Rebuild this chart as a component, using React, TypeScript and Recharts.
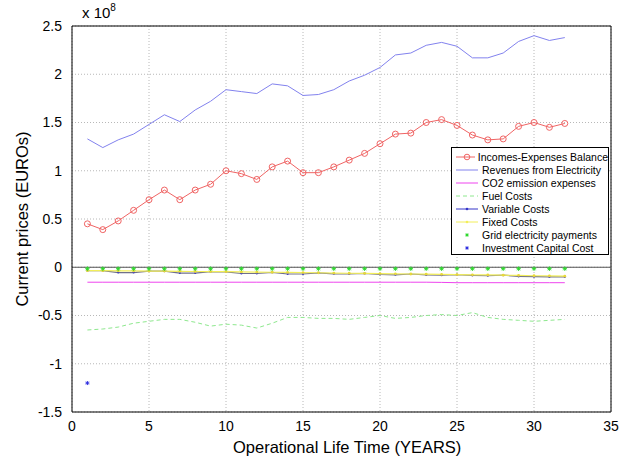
import React from 'react';
import { ComposedChart, Line, Scatter, XAxis, YAxis, CartesianGrid, ReferenceLine } from 'recharts';

// values in units of 1e8 EUR
const YEARS = [1, 2, 3, 4, 5, 6, 7, 8, 9, 10, 11, 12, 13, 14, 15, 16, 17, 18, 19, 20, 21, 22, 23, 24, 25, 26, 27, 28, 29, 30, 31, 32];
const BALANCE = [0.45, 0.39, 0.48, 0.59, 0.70, 0.80, 0.70, 0.80, 0.86, 1.00, 0.97, 0.91, 1.04, 1.10, 0.98, 0.98, 1.04, 1.11, 1.18, 1.28, 1.38, 1.39, 1.50, 1.53, 1.47, 1.37, 1.32, 1.33, 1.46, 1.50, 1.45, 1.49];
const REVENUES = [1.33, 1.24, 1.32, 1.38, 1.48, 1.58, 1.51, 1.63, 1.72, 1.84, 1.82, 1.80, 1.90, 1.88, 1.78, 1.79, 1.84, 1.93, 1.99, 2.07, 2.20, 2.22, 2.30, 2.33, 2.29, 2.17, 2.17, 2.22, 2.34, 2.40, 2.35, 2.38];
const CO2 = [-0.155, -0.155, -0.155, -0.155, -0.155, -0.155, -0.155, -0.155, -0.155, -0.155, -0.155, -0.155, -0.155, -0.155, -0.155, -0.155, -0.155, -0.155, -0.155, -0.155, -0.155, -0.155, -0.155, -0.157, -0.16, -0.16, -0.16, -0.16, -0.16, -0.16, -0.16, -0.16];
const FUEL = [-0.65, -0.64, -0.62, -0.58, -0.56, -0.54, -0.54, -0.57, -0.61, -0.59, -0.60, -0.63, -0.58, -0.52, -0.52, -0.53, -0.53, -0.54, -0.52, -0.50, -0.53, -0.52, -0.50, -0.49, -0.50, -0.47, -0.52, -0.54, -0.55, -0.56, -0.55, -0.54];
const VARIABLE = [-0.035, -0.036, -0.055, -0.055, -0.04, -0.041, -0.06, -0.06, -0.045, -0.047, -0.065, -0.065, -0.053, -0.07, -0.07, -0.058, -0.068, -0.07, -0.064, -0.075, -0.078, -0.07, -0.08, -0.082, -0.076, -0.085, -0.088, -0.082, -0.095, -0.098, -0.1, -0.1];
const FIXED = [-0.035, -0.035, -0.037, -0.038, -0.04, -0.04, -0.042, -0.044, -0.045, -0.046, -0.048, -0.05, -0.052, -0.054, -0.055, -0.057, -0.06, -0.062, -0.064, -0.066, -0.068, -0.07, -0.072, -0.074, -0.076, -0.078, -0.08, -0.082, -0.085, -0.088, -0.09, -0.092];
const GRID_PAY = [-0.015, -0.015, -0.015, -0.015, -0.015, -0.015, -0.015, -0.015, -0.015, -0.015, -0.015, -0.015, -0.015, -0.015, -0.015, -0.015, -0.015, -0.015, -0.015, -0.015, -0.015, -0.015, -0.015, -0.015, -0.015, -0.015, -0.015, -0.015, -0.015, -0.015, -0.015, -0.015];
const INVEST_YEARS = [1];
const INVEST = [-1.2];

const X_TICKS = [0, 5, 10, 15, 20, 25, 30, 35];
const Y_TICKS = [-1.5, -1, -0.5, 0, 0.5, 1, 1.5, 2, 2.5];

const LEGEND = [
    { name: 'Incomes-Expenses Balance', color: '#f06464', kind: 'circle' },
    { name: 'Revenues from Electricity', color: '#8282ee', kind: 'line' },
    { name: 'CO2 emission expenses', color: '#ee44ee', kind: 'line' },
    { name: 'Fuel Costs', color: '#8ee88e', kind: 'dash' },
    { name: 'Variable Costs', color: '#3434c8', kind: 'dot' },
    { name: 'Fixed Costs', color: '#f2ee5a', kind: 'dot' },
    { name: 'Grid electricity payments', color: '#2ed82e', kind: 'star' },
    { name: 'Investment Capital Cost', color: '#3030e0', kind: 'star' },
];

const data = YEARS.map((year, i) => ({
    year,
    balance: BALANCE[i],
    revenues: REVENUES[i],
    co2: CO2[i],
    fuel: FUEL[i],
    variable: VARIABLE[i],
    fixed: FIXED[i],
    grid: GRID_PAY[i],
}));

const investData = INVEST_YEARS.map((year, i) => ({ year, invest: INVEST[i] }));

const FONT = '"Liberation Sans", Arial, sans-serif';

const Star = ({ cx, cy, color, s = 2.2 }: { cx: number, cy: number, color: string, s?: number }) => (
    <g stroke={color} strokeWidth={1}>
        <line x1={cx - s} y1={cy} x2={cx + s} y2={cy} />
        <line x1={cx} y1={cy - s} x2={cx} y2={cy + s} />
        <line x1={cx - s * 0.7} y1={cy - s * 0.7} x2={cx + s * 0.7} y2={cy + s * 0.7} />
        <line x1={cx - s * 0.7} y1={cy + s * 0.7} x2={cx + s * 0.7} y2={cy - s * 0.7} />
    </g>
);

const LegendSample = ({ kind, color }: { kind: string, color: string }) => (
    <svg width={24} height={10} style={{ display: 'block', marginRight: 3 }}>
        {kind !== 'star' && (
            <line x1={1} y1={5} x2={23} y2={5} stroke={color} strokeWidth={1}
                strokeDasharray={kind === 'dash' ? '4 3' : undefined} />
        )}
        {kind === 'circle' && <circle cx={12} cy={5} r={2.8} fill="none" stroke={color} />}
        {kind === 'dot' && <circle cx={12} cy={5} r={1.3} fill={color} />}
        {kind === 'star' && <Star cx={12} cy={5} color={color} s={1.8} />}
    </svg>
);

export default function App() {
    return (
        <div style={{ position: 'absolute', left: 0, top: 0, width: 634, height: 464, background: '#fff', fontFamily: FONT }}>
            <ComposedChart width={634} height={464} data={data} margin={{ top: 26, right: 23, bottom: 22, left: 12 }}>
                <CartesianGrid stroke="#b8b8b8" strokeDasharray="1 2" verticalPoints={undefined} />
                <XAxis type="number" dataKey="year" domain={[0, 35]} ticks={X_TICKS} height={30}
                    axisLine={{ stroke: '#000' }} tickLine={false} allowDataOverflow
                    tick={{ fontSize: 14, fill: '#000', fontFamily: FONT }} tickMargin={3} />
                <YAxis type="number" domain={[-1.5, 2.5]} ticks={Y_TICKS} width={60}
                    axisLine={{ stroke: '#000' }} tickLine={false} allowDataOverflow
                    tick={{ fontSize: 14, fill: '#000', fontFamily: FONT }} tickMargin={4} />
                <ReferenceLine y={2.5} stroke="#000" />
                <ReferenceLine x={35} stroke="#000" />
                <ReferenceLine y={0} stroke="#555" />
                <Line dataKey="fuel" stroke="#8ee88e" strokeDasharray="4 3" strokeWidth={1} dot={false} isAnimationActive={false} />
                <Line dataKey="co2" stroke="#ee44ee" strokeWidth={1} dot={false} isAnimationActive={false} />
                <Line dataKey="revenues" stroke="#8282ee" strokeWidth={1} dot={false} isAnimationActive={false} />
                <Line dataKey="balance" stroke="#f06464" strokeWidth={1}
                    dot={{ r: 3, fill: 'none', stroke: '#f06464', strokeWidth: 1 }} isAnimationActive={false} />
                <Line dataKey="variable" stroke="#70708c" strokeWidth={1.2}
                    dot={{ r: 1, fill: '#3434c8', stroke: 'none' }} isAnimationActive={false} />
                <Line dataKey="fixed" stroke="#f2ee5a" strokeWidth={1.2}
                    dot={{ r: 1.4, fill: '#e8d83a', stroke: 'none' }} isAnimationActive={false} />
                <Line dataKey="grid" stroke="none"
                    dot={(p: any) => <Star key={`g-${p.index}`} cx={p.cx} cy={p.cy} color="#2ed82e" s={2.2} />}
                    isAnimationActive={false} />
                <Scatter data={investData} dataKey="invest" isAnimationActive={false}
                    shape={(p: any) => <Star cx={p.cx} cy={p.cy} color="#3030e0" s={2} />} />
            </ComposedChart>

            <div style={{ position: 'absolute', left: 82, top: 4, fontSize: 15, color: '#000' }}>
                x 10<sup style={{ fontSize: 10, verticalAlign: 'top', position: 'relative', top: -2 }}>8</sup>
            </div>
            <div style={{ position: 'absolute', left: 233, top: 438, width: 220, textAlign: 'center', fontSize: 16.5, color: '#000', whiteSpace: 'nowrap' }}>
                Operational Life Time (YEARS)
            </div>
            <div style={{ position: 'absolute', left: 22, top: 219, transform: 'translate(-50%, -50%) rotate(-90deg)', fontSize: 16.5, color: '#000', whiteSpace: 'nowrap' }}>
                Current prices (EUROs)
            </div>

            <div style={{ position: 'absolute', left: 451, top: 147, width: 158, height: 108, background: '#fff', border: '1px solid #000', padding: '2px 0 0 3px', boxSizing: 'border-box' }}>
                {LEGEND.map(item => (
                    <div key={item.name} style={{ display: 'flex', alignItems: 'center', height: 13.1, fontSize: 10.5, color: '#000', whiteSpace: 'nowrap' }}>
                        <LegendSample kind={item.kind} color={item.color} />
                        {item.name}
                    </div>
                ))}
            </div>
        </div>
    );
}
